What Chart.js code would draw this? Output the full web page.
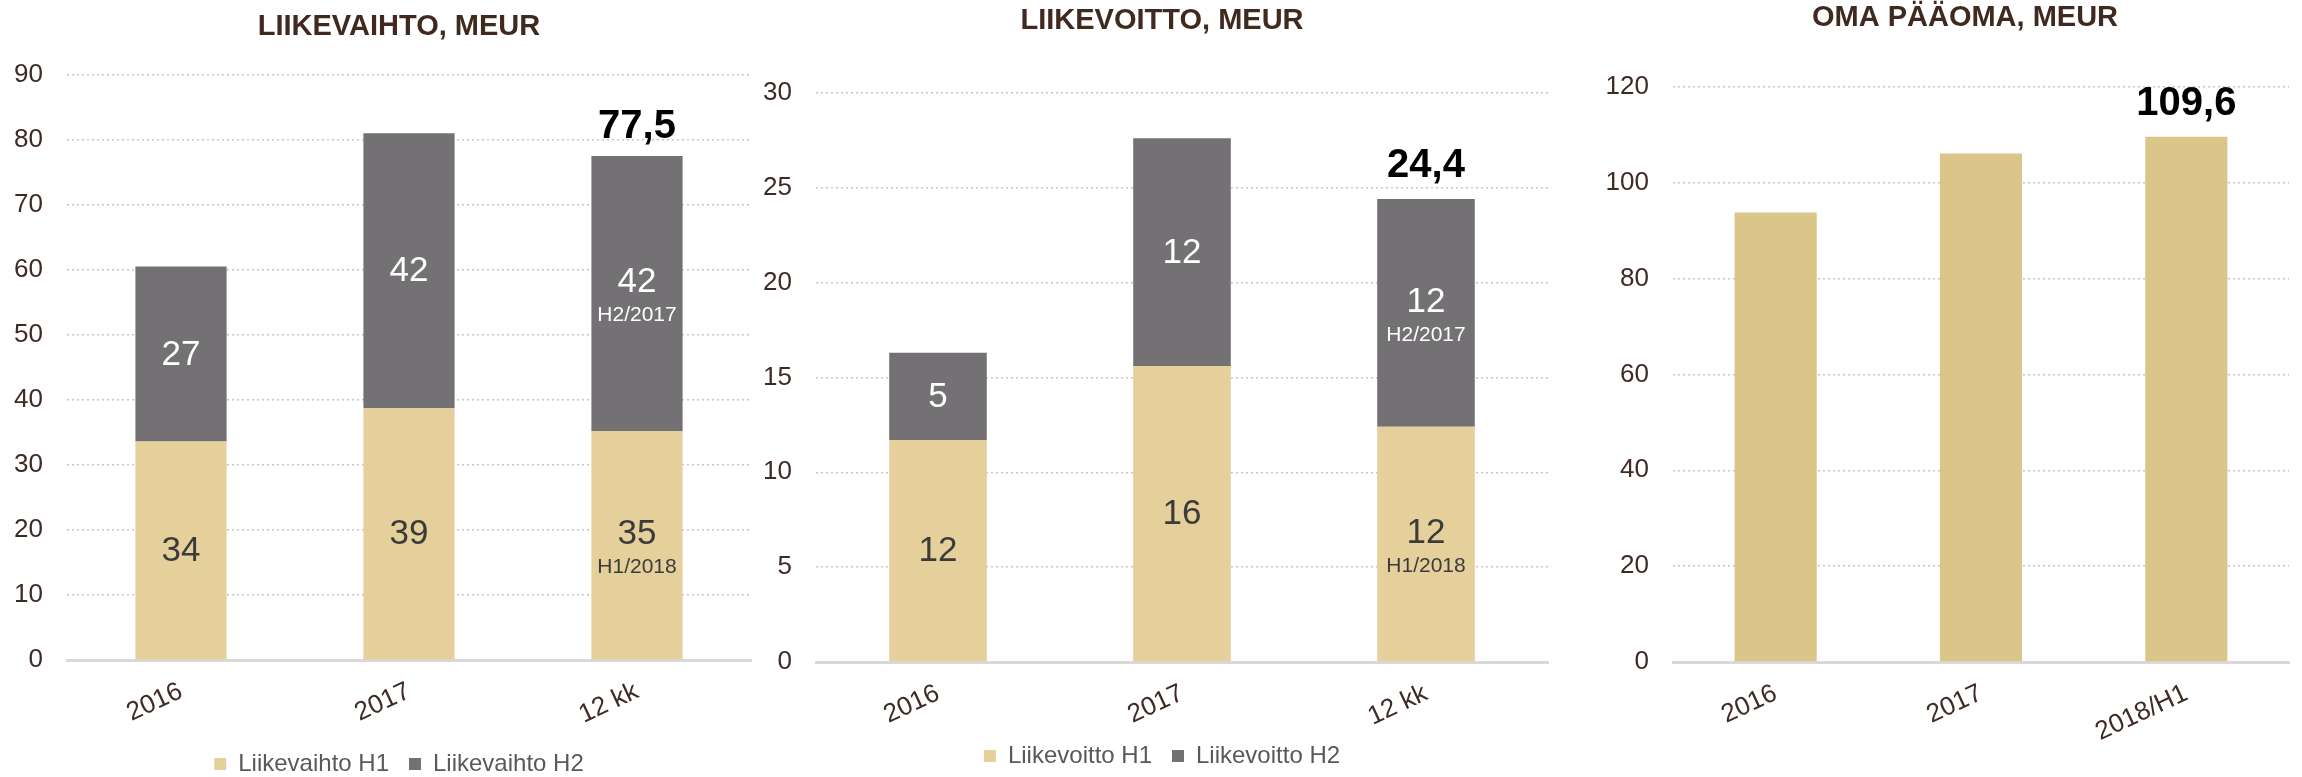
<!DOCTYPE html>
<html>
<head>
<meta charset="utf-8">
<script src="https://cdn.jsdelivr.net/npm/chart.js@4.4.1/dist/chart.umd.min.js"></script>
<style>
  html, body { margin: 0; padding: 0; background: #fff; overflow: hidden; }
  body { width: 2302px; height: 777px; position: relative; }
  canvas { position: absolute; top: 0; }
</style>
</head>
<body>
<canvas id="revenueChart" width="800" height="777" style="left:0px"></canvas>
<canvas id="profitChart" width="820" height="777" style="left:760px"></canvas>
<canvas id="equityChart" width="730" height="777" style="left:1600px"></canvas>
<script>
// --- data ---
const revenueYears = ['2016', '2017', '12 kk'];
const revenueH1 = [33.6, 38.7, 35.2];
const revenueH2 = [26.9, 42.3, 42.3];

const profitYears = ['2016', '2017', '12 kk'];
const profitH1 = [11.7, 15.6, 12.4];
const profitH2 = [4.6, 12.0, 12.0];

const equityYears = ['2016', '2017', '2018/H1'];
const equity = [93.8, 106.1, 109.6];

const h1Notes = ['', '', 'H1/2018'];
const h2Notes = ['', '', 'H2/2017'];

const FONT = '"Liberation Sans", Arial, sans-serif';
const BEIGE = '#e5d09c';
const GREY = '#737173';
const GOLD = '#dbc68a';
const BROWN = '#3f2a25';

Chart.defaults.font.family = FONT;
Chart.defaults.animation = false;

// numbers inside the segments + bold total above the last bar
const barLabels = {
  id: 'barLabels',
  afterDatasetsDraw(chart) {
    const ctx = chart.ctx;
    const opts = chart.options.plugins.barLabels;
    ctx.save();
    ctx.textAlign = 'center';
    ctx.textBaseline = 'middle';
    chart.data.datasets.forEach((ds, di) => {
      if (!opts.inner) return;
      const meta = chart.getDatasetMeta(di);
      meta.data.forEach((bar, i) => {
        const mid = (bar.y + bar.base) / 2;
        const note = opts.notes[di][i];
        ctx.fillStyle = opts.textColors[di];
        ctx.font = '35px ' + FONT;
        ctx.fillText(Math.round(ds.data[i]), bar.x, note ? mid - 11 : mid + 1);
        if (note) {
          ctx.font = '21px ' + FONT;
          ctx.fillText(note, bar.x, mid + 22);
        }
      });
    });
    const i = opts.totalIndex;
    const last = chart.getDatasetMeta(chart.data.datasets.length - 1).data[i];
    let total = 0;
    chart.data.datasets.forEach(ds => { total += ds.data[i]; });
    ctx.font = 'bold 40px ' + FONT;
    ctx.fillStyle = '#000';
    ctx.fillText(total.toFixed(1).replace('.', ','), last.x, last.y - opts.gap);
    ctx.restore();
  }
};

function makeChart(id, cfg) {
  return new Chart(document.getElementById(id), {
    type: 'bar',
    data: { labels: cfg.labels, datasets: cfg.datasets },
    plugins: [barLabels],
    options: {
      responsive: false,
      maintainAspectRatio: false,
      layout: { padding: cfg.padding },
      datasets: { bar: { categoryPercentage: 1, barPercentage: 0.4 } },
      plugins: {
        tooltip: { enabled: false },
        title: {
          display: true,
          text: cfg.title,
          color: '#40291f',
          font: { size: 29, weight: 'bold' },
          padding: cfg.titlePadding
        },
        legend: {
          display: cfg.legend,
          position: 'bottom',
          maxHeight: 45,
          labels: { color: '#595959', font: { size: 24 }, boxWidth: 12, boxHeight: 12, padding: 20 }
        },
        barLabels: cfg.barLabels
      },
      scales: {
        x: {
          stacked: true,
          grid: { display: false, drawTicks: false },
          border: { display: true, color: '#d9d9d9', width: 3 },
          ticks: {
            color: BROWN, font: { size: 26 },
            minRotation: 25, maxRotation: 25, autoSkip: false,
            padding: 16, labelOffset: 0
          },
          afterFit: s => { s.height = cfg.xHeight; }
        },
        y: {
          stacked: true,
          min: 0, max: cfg.max,
          grid: {
            drawTicks: false,
            lineWidth: 1.5,
            color: c => c.tick && c.tick.value === 0 ? 'rgba(0,0,0,0)' : '#c6c6c6'
          },
          border: { display: false, dash: [2, 3] },
          ticks: { stepSize: cfg.step, color: BROWN, font: { size: 26 }, padding: 24 },
          afterFit: s => { s.width = cfg.yWidth; }
        },
        // empty axis on the right, only used to hold space
        spacer: {
          type: 'linear',
          position: 'right',
          grid: { display: false, drawTicks: false },
          border: { display: false },
          ticks: { display: false },
          afterFit: s => { s.width = cfg.rightWidth; }
        }
      }
    }
  });
}

makeChart('revenueChart', {
  title: 'LIIKEVAIHTO, MEUR',
  labels: revenueYears,
  datasets: [
    { label: 'Liikevaihto H1', data: revenueH1, backgroundColor: BEIGE },
    { label: 'Liikevaihto H2', data: revenueH2, backgroundColor: GREY }
  ],
  max: 90, step: 10,
  padding: { left: 0, right: 2, top: 0, bottom: 0 },
  titlePadding: { top: 10, bottom: 30 },
  yWidth: 67, rightWidth: 47, xHeight: 72,
  legend: true,
  barLabels: { inner: true, notes: [h1Notes, h2Notes], textColors: ['#3b3b3b', '#fff'], totalIndex: 2, gap: 29 }
});

makeChart('profitChart', {
  title: 'LIIKEVOITTO, MEUR',
  labels: profitYears,
  datasets: [
    { label: 'Liikevoitto H1', data: profitH1, backgroundColor: BEIGE },
    { label: 'Liikevoitto H2', data: profitH2, backgroundColor: GREY }
  ],
  max: 30, step: 5,
  padding: { left: 0, right: 16, top: 0, bottom: 8 },
  titlePadding: { top: 4, bottom: 54 },
  yWidth: 56, rightWidth: 16, xHeight: 62,
  legend: true,
  barLabels: { inner: true, notes: [h1Notes, h2Notes], textColors: ['#3b3b3b', '#fff'], totalIndex: 2, gap: 33 }
});

makeChart('equityChart', {
  title: 'OMA PÄÄOMA, MEUR',
  labels: equityYears,
  datasets: [
    { label: 'Oma pääoma', data: equity, backgroundColor: GOLD }
  ],
  max: 120, step: 20,
  padding: { left: 0, right: 0, top: 0, bottom: 0 },
  titlePadding: { top: 1, bottom: 51 },
  yWidth: 73, rightWidth: 41, xHeight: 115,
  legend: false,
  barLabels: { inner: false, notes: [], textColors: [], totalIndex: 2, gap: 33 }
});
</script>
</body>
</html>
